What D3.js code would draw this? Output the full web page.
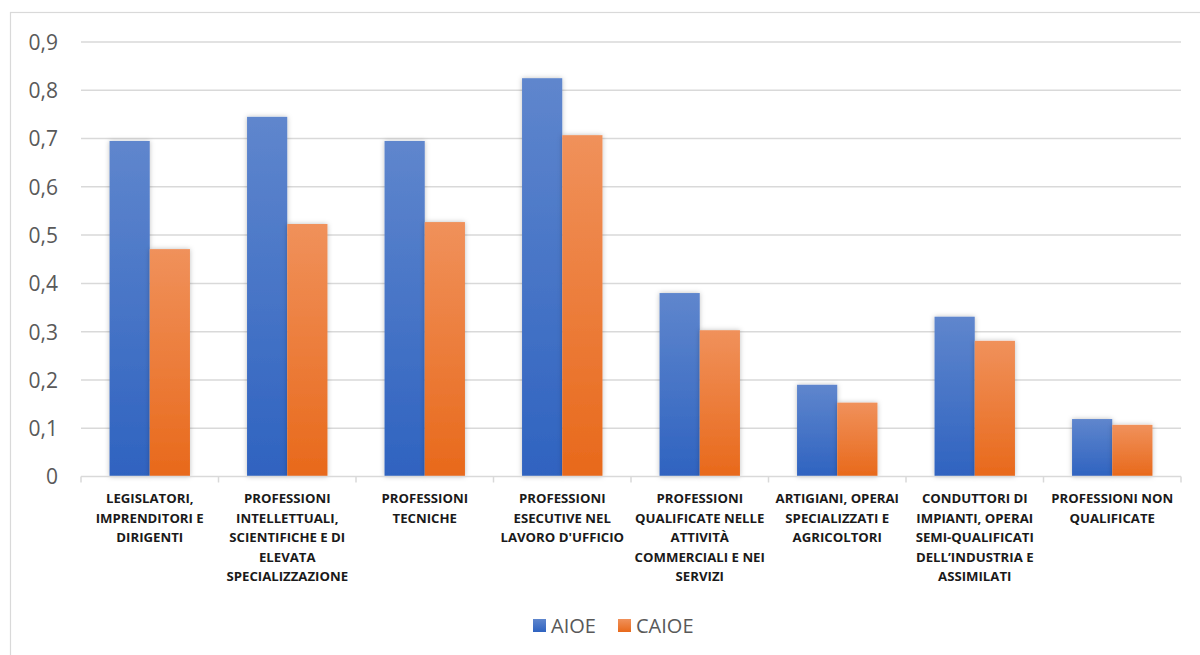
<!DOCTYPE html>
<html><head><meta charset="utf-8">
<script src="https://cdn.jsdelivr.net/npm/d3@7"></script>
<style>body{margin:0;background:#fff}svg{display:block}</style>
</head><body>
<script>
const categories = [
  ["LEGISLATORI,","IMPRENDITORI E","DIRIGENTI"],
  ["PROFESSIONI","INTELLETTUALI,","SCIENTIFICHE E DI","ELEVATA","SPECIALIZZAZIONE"],
  ["PROFESSIONI","TECNICHE"],
  ["PROFESSIONI","ESECUTIVE NEL","LAVORO D'UFFICIO"],
  ["PROFESSIONI","QUALIFICATE NELLE","ATTIVITÀ","COMMERCIALI E NEI","SERVIZI"],
  ["ARTIGIANI, OPERAI","SPECIALIZZATI E","AGRICOLTORI"],
  ["CONDUTTORI DI","IMPIANTI, OPERAI","SEMI-QUALIFICATI","DELL’INDUSTRIA E","ASSIMILATI"],
  ["PROFESSIONI NON","QUALIFICATE"]
];
const seriesNames = ["AIOE","CAIOE"];
const aioe  = [0.695, 0.745, 0.695, 0.825, 0.380, 0.190, 0.331, 0.119];
const caioe = [0.471, 0.523, 0.527, 0.707, 0.303, 0.153, 0.281, 0.107];
const yTicks = [0,0.1,0.2,0.3,0.4,0.5,0.6,0.7,0.8,0.9];
const yTickLabels = ["0","0,1","0,2","0,3","0,4","0,5","0,6","0,7","0,8","0,9"];

const W=1200,H=655;
const svg=d3.select("body").append("svg").attr("width",W).attr("height",H);
const defs=svg.append("defs");
const grads=[["gA","#5f86cd","#2f63c0"],["gC","#f0915b","#e8691b"]];
grads.forEach(([id,t,b])=>{
  const g=defs.append("linearGradient").attr("id",id).attr("x1",0).attr("y1",0).attr("x2",0).attr("y2",1);
  g.append("stop").attr("offset","0%").attr("stop-color",t);
  g.append("stop").attr("offset","100%").attr("stop-color",b);
});
const f=defs.append("filter").attr("id","sh").attr("x","-30%").attr("y","-10%").attr("width","160%").attr("height","120%");
f.append("feDropShadow").attr("dx",0).attr("dy",0).attr("stdDeviation",2.5).attr("flood-color","#000").attr("flood-opacity",0.25);

// chart frame
svg.append("rect").attr("x",10.5).attr("y",12.5).attr("width",1300).attr("height",800)
  .attr("fill","none").attr("stroke","#d9d9d9").attr("stroke-width",1.2);

const x0=d3.scaleBand().domain(d3.range(categories.length)).range([81,1181]).paddingInner(0).paddingOuter(0);
const x1=d3.scaleBand().domain(seriesNames).range([0,x0.bandwidth()]).paddingOuter(0.71).paddingInner(0);
const y=d3.scaleLinear().domain([0,0.9]).range([476.5,42]);

// gridlines
svg.append("g").selectAll("line").data(yTicks.slice(1)).join("line")
  .attr("x1",81).attr("x2",1181).attr("y1",d=>y(d)).attr("y2",d=>y(d))
  .attr("stroke","#d9d9d9").attr("stroke-width",1.5);

// y axis labels
const yAxis=d3.axisLeft(y).tickValues(yTicks).tickFormat((d,i)=>yTickLabels[i]).tickSize(0).tickPadding(0);
const ya=svg.append("g").attr("transform","translate(58,0)").call(yAxis);
ya.select(".domain").remove();
ya.selectAll("text").attr("font-family","'Open Sans', 'Noto Sans', sans-serif").attr("font-size",21).attr("fill","#595959").attr("dy","0.35em");

// bars
const series=[aioe,caioe];
const fills=["url(#gA)","url(#gC)"];
series.forEach((vals,si)=>{
  svg.append("g").selectAll("rect").data(vals).join("rect")
    .attr("x",(d,i)=>x0(i)+x1(seriesNames[si]))
    .attr("width",x1.bandwidth())
    .attr("y",d=>y(d)).attr("height",d=>y(0)-y(d))
    .attr("fill",fills[si]).attr("filter","url(#sh)");
});

// x axis baseline with ticks
const xa=svg.append("g");
xa.append("line").attr("x1",81).attr("x2",1181).attr("y1",y(0)).attr("y2",y(0)).attr("stroke","#d9d9d9").attr("stroke-width",1.5);
xa.selectAll("line.t").data(d3.range(categories.length+1)).join("line").attr("class","t")
  .attr("x1",i=>i<categories.length?x0(i):1181).attr("x2",i=>i<categories.length?x0(i):1181)
  .attr("y1",y(0)).attr("y2",y(0)+6).attr("stroke","#d9d9d9").attr("stroke-width",1.5);

// category labels
const lab=svg.append("g").attr("font-family","'Open Sans', 'Noto Sans', sans-serif").attr("font-weight","bold")
  .attr("font-size",13.2).attr("fill","#1a1a1a").attr("text-anchor","middle");
categories.forEach((lines,i)=>{
  const t=lab.append("text").attr("x",x0(i)+x0.bandwidth()/2).attr("y",503);
  lines.forEach((l,j)=>t.append("tspan").attr("x",x0(i)+x0.bandwidth()/2).attr("dy",j?19.6:0).text(l));
});

// legend
const leg=svg.append("g").attr("font-family","'Open Sans', 'Noto Sans', sans-serif").attr("font-size",20).attr("fill","#595959");
const legX=[533,618];
seriesNames.forEach((n,i)=>{
  leg.append("rect").attr("x",legX[i]).attr("y",619).attr("width",13).attr("height",13).attr("fill",fills[i]);
  leg.append("text").attr("x",legX[i]+18).attr("y",625.5).attr("dy","0.35em").text(n);
});
</script>
</body></html>
